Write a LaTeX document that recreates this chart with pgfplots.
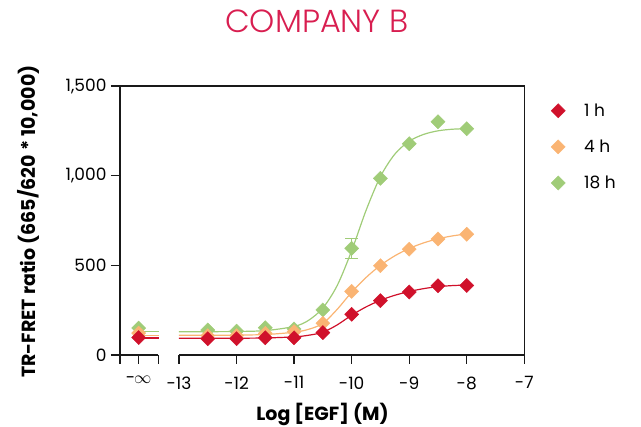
\documentclass[border=0pt]{standalone}
\usepackage{pgfplots}
\pgfplotsset{compat=1.18}
\usepackage{fontspec}
\setmainfont{Poppins}
\newfontfamily\titlefont{Poppins Light}
\definecolor{cred}{RGB}{208,17,43}
\definecolor{corange}{RGB}{250,180,115}
\definecolor{cgreen}{RGB}{160,204,120}
\definecolor{ctitle}{RGB}{216,30,80}
\definecolor{axgray}{RGB}{25,25,25}
\begin{document}
\begin{tikzpicture}[x=1pt,y=1pt]
\useasboundingbox (0,0) rectangle (641,427);
\begin{axis}[
  at={(120pt,72pt)}, anchor=south west,
  scale only axis, width=404.3pt, height=269pt,
  xmin=-14.025, xmax=-7, ymin=0, ymax=1500,
  clip=false,
  axis line style={draw=none},
  xtick={-13.7,-13,-12,-11,-10,-9,-8,-7},
  xticklabels={-\kern-1.2pt$\infty$,-13,-12,-11,-10,-9,-8,-7},
  extra x ticks={-14.025,-13.36},
  extra x tick labels={},
  extra x tick style={tick style={line width=1.2pt, color=axgray}},
  ytick={0,500,1000,1500},
  tick align=outside, tick pos=left,
  major tick length=9pt,
  tick style={line width=1.2pt, color=axgray},
  /pgf/number format/assume math mode=true,
  /pgf/number format/1000 sep={,},
  ticklabel style={font=\fontsize{17}{20}\selectfont, color=black},
  xticklabel style={yshift=-9pt},
  yticklabel style={xshift=-1pt},
  legend style={at={(rel axis cs:1.0636,0.9384)}, anchor=north west, draw=none, fill=none,
    inner sep=0pt, row sep=20pt, font=\fontsize{17}{20}\selectfont,
    nodes={inner sep=1pt}},
  legend cell align=left,
  reverse legend,
  legend image code/.code={\path[draw=none,fill=none] (0pt,-7pt) rectangle (33pt,7pt);
    \draw[#1,mark repeat=2,mark phase=2] plot coordinates {(0pt,0pt)(8pt,0pt)(16pt,0pt)};},
]
\draw[line width=1.2pt, axgray, line join=miter] (axis cs:-13.36,0) -- (axis cs:-14.025,0) -- (axis cs:-14.025,1500) -- (axis cs:-7,1500) -- (axis cs:-7,0) -- (axis cs:-13,0);

% fitted curves
\addplot[cgreen, line width=1.2pt, forget plot] coordinates {(-13.8,130)(-13.35,130)};
\addplot[corange, line width=1.2pt, forget plot] coordinates {(-13.8,110)(-13.35,110)};
\addplot[cred, line width=1.2pt, forget plot] coordinates {(-13.8,95)(-13.35,95)};

\addplot[cgreen, line width=1.2pt, smooth, forget plot] coordinates {
(-13,130)(-12.5,130)(-12,131)(-11.5,136)(-11,159)(-10.75,193)(-10.5,262)(-10.25,388)(-10,581)
(-9.75,806)(-9.5,995)(-9.25,1120)(-9,1192)(-8.75,1230)(-8.5,1250)(-8.25,1259)(-8,1262)};
\addplot[corange, line width=1.2pt, smooth, forget plot] coordinates {
(-13,110)(-12.5,110)(-12,111)(-11.5,114)(-11,127)(-10.75,143)(-10.5,176)(-10.25,255)(-10,350)
(-9.75,432)(-9.5,500)(-9.25,553)(-9,594)(-8.75,625)(-8.5,648)(-8.25,664)(-8,675)};
\addplot[cred, line width=1.2pt, smooth, forget plot] coordinates {
(-13,93)(-12.5,93)(-12,93.5)(-11.5,95)(-11,101)(-10.75,110)(-10.5,127)(-10.25,168)(-10,222)
(-9.75,268)(-9.5,305)(-9.25,333)(-9,354)(-8.75,370)(-8.5,381)(-8.25,387)(-8,390)};

% error bar
\addplot[forget plot, draw=none, mark=none,
  error bars/.cd, y dir=both, y explicit,
  error bar style={draw=cgreen, line width=1.2pt},
  error mark options={rotate=90, mark size=6.5pt, draw=cgreen, line width=1.2pt}]
  coordinates {(-10,595) += (0,53) -= (0,58)};

% data points
\addplot[only marks, mark=square*, mark size=5pt, mark options={rotate=45, fill=cgreen, draw=cgreen}] coordinates {
(-13.7,150)(-12.5,139)(-12,133)(-11.5,152)(-11,145)(-10.5,251)(-10,595)(-9.5,985)(-9,1178)(-8.5,1301)(-8,1262)};
\addlegendentry{18 h}
\addplot[only marks, mark=square*, mark size=5pt, mark options={rotate=45, fill=corange, draw=corange}] coordinates {
(-13.7,122)(-12.5,108)(-12,108)(-11.5,121)(-11,130)(-10.5,177)(-10,355)(-9.5,498)(-9,590)(-8.5,647)(-8,673)};
\addlegendentry{4 h}
\addplot[only marks, mark=square*, mark size=5pt, mark options={rotate=45, fill=cred, draw=cred}] coordinates {
(-13.7,97)(-12.5,91)(-12,91)(-11.5,96)(-11,96)(-10.5,125)(-10,227)(-9.5,303)(-9,351)(-8.5,386)(-8,388)};
\addlegendentry{1 h}
\end{axis}
\node[font=\titlefont\fontsize{32}{36}\selectfont, color=ctitle, anchor=base] at (317,394) {COMPANY B};
\node[rotate=90, anchor=base west, inner sep=0pt, font=\bfseries\fontsize{19}{22}\selectfont] at (35,49) {TR-FRET ratio (665/620 * 10,000)};
\node[font=\bfseries\fontsize{19}{22}\selectfont, anchor=base] at (322.5,6.5) {Log [EGF] (M)};
\end{tikzpicture}
\end{document}
